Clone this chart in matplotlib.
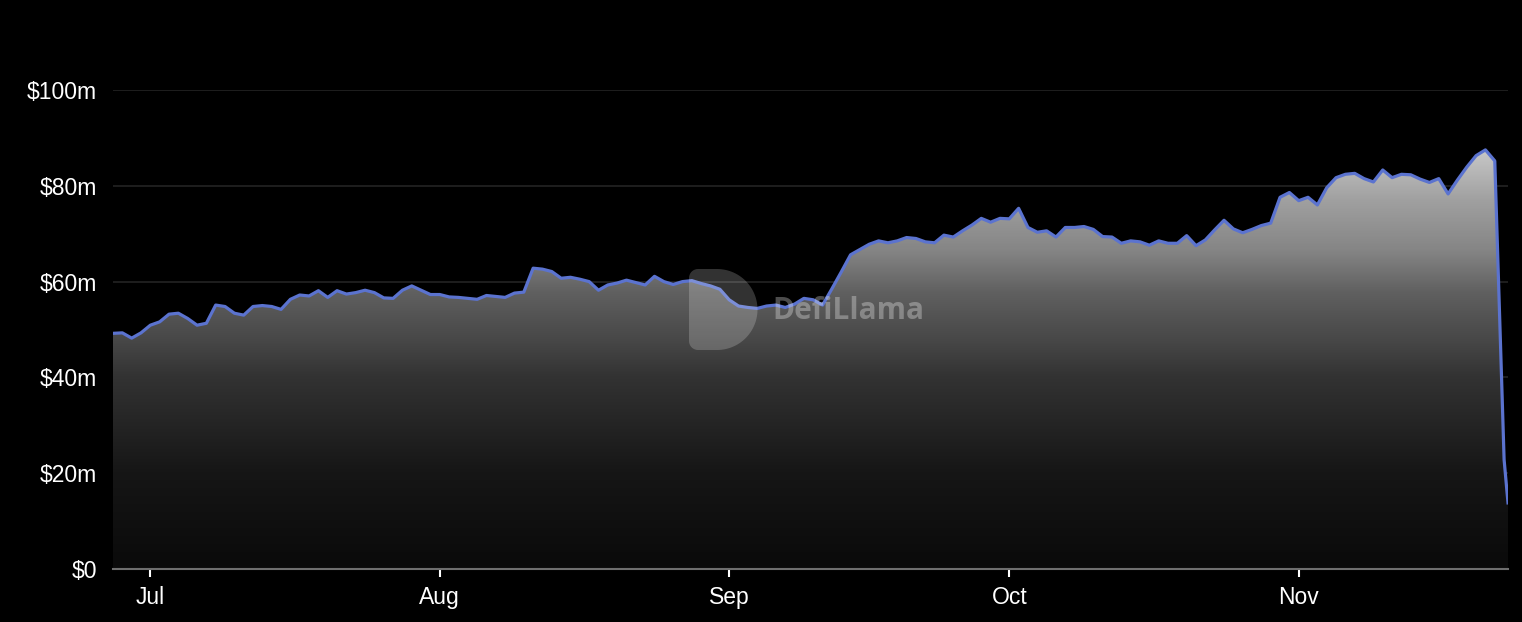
import matplotlib
matplotlib.use("Agg")
import matplotlib.pyplot as plt
import matplotlib.dates as mdates
import numpy as np
import pandas as pd
from matplotlib.colors import LinearSegmentedColormap
from matplotlib.patches import Polygon
from matplotlib.ticker import FuncFormatter

# TVL en millions de dollars, un point par jour depuis le 27 juin
START_DAY = "2022-06-27"
LAST_STAMP = "2022-11-23 10:00"  # dernier point intrajournalier
tvl_m = [
    49.2, 49.3, 48.2, 49.3, 50.9, 51.6, 53.2, 53.4, 52.3, 50.9,
    51.3, 55.1, 54.8, 53.4, 53.0, 54.8, 55.0, 54.8, 54.2, 56.3,
    57.2, 57.0, 58.1, 56.7, 58.1, 57.4, 57.7, 58.2, 57.7, 56.6,
    56.5, 58.2, 59.1, 58.2, 57.3, 57.3, 56.8, 56.7, 56.5, 56.3,
    57.1, 56.9, 56.7, 57.6, 57.8, 62.8, 62.6, 62.1, 60.7, 60.9,
    60.5, 60.0, 58.2, 59.3, 59.7, 60.3, 59.8, 59.3, 61.1, 60.0,
    59.4, 60.0, 60.2, 59.6, 59.1, 58.4, 56.2, 54.9, 54.6, 54.4,
    54.9, 55.1, 54.6, 55.3, 56.5, 56.2, 55.1, 58.5, 62.0, 65.6,
    66.7, 67.8, 68.5, 68.1, 68.5, 69.2, 69.0, 68.3, 68.1, 69.7,
    69.3, 70.6, 71.8, 73.2, 72.4, 73.2, 73.1, 75.3, 71.3, 70.3,
    70.6, 69.3, 71.3, 71.3, 71.5, 70.9, 69.4, 69.3, 68.0, 68.5,
    68.3, 67.6, 68.5, 68.0, 68.0, 69.6, 67.5, 68.7, 70.8, 72.8,
    71.0, 70.2, 70.9, 71.7, 72.2, 77.6, 78.6, 76.9, 77.6, 76.0,
    79.6, 81.7, 82.4, 82.6, 81.5, 80.8, 83.3, 81.7, 82.4, 82.3,
    81.4, 80.7, 81.5, 78.3, 81.2, 83.9, 86.3, 87.5, 85.2, 22.8,
    13.8,
]
y_ticks = [0, 20, 40, 60, 80, 100]

days = list(pd.date_range(START_DAY, periods=len(tvl_m) - 1, freq="D"))
days.append(pd.Timestamp(LAST_STAMP))
x = mdates.date2num(days)
y = np.array(tvl_m)

W, H = 1522, 622
fig = plt.figure(figsize=(W / 100, H / 100), dpi=100, facecolor="black")
ax = fig.add_axes([113 / W, (H - 569) / H, (1508 - 113) / W, (569 - 90) / H])
ax.set_facecolor("black")

# remplissage en dégradé (clair en haut, noir en bas)
grey = LinearSegmentedColormap.from_list(
    "fade",
    [(0.0, "#0a0a0a"), (0.23, "#161616"), (0.46, "#333333"),
     (0.53, "#444444"), (0.66, "#606060"), (0.76, "#858585"),
     (0.88, "#a0a0a0"), (1.0, "#c8c8c8")],
)
ymax = y.max()
grad = np.linspace(0, 1, 256).reshape(-1, 1)
img = ax.imshow(grad, cmap=grey, origin="lower", aspect="auto",
                extent=[x[0], x[-1], 0, ymax], zorder=1)
poly = Polygon(np.column_stack([np.r_[x[0], x, x[-1]], np.r_[0, y, 0]]),
               closed=True, facecolor="none", edgecolor="none")
ax.add_patch(poly)
img.set_clip_path(poly)

ax.plot(x, y, color="#5b73cf", lw=2.3, zorder=3, solid_joinstyle="round")

ax.set_xlim(x[0], x[-1])
ax.set_ylim(0, 100)
ax.set_yticks(y_ticks)
ax.yaxis.set_major_formatter(FuncFormatter(lambda v, p: "$0" if v == 0 else f"${v:.0f}m"))
ax.xaxis.set_major_locator(mdates.MonthLocator())
ax.xaxis.set_major_formatter(mdates.DateFormatter("%b"))

for v in y_ticks[1:]:
    ax.axhline(v, color="#232323", lw=1.2, zorder=0.5)
for s in ["top", "right", "left"]:
    ax.spines[s].set_visible(False)
ax.spines["bottom"].set_color("#6e6e6e")
ax.spines["bottom"].set_linewidth(1.5)
ax.spines["bottom"].set_zorder(4)

ax.tick_params(axis="y", length=0, pad=11.5, labelcolor="white",
               labelsize=16.5, labelfontfamily="Liberation Sans")
ax.tick_params(axis="x", length=6, width=1.5, color="white", pad=6,
               labelcolor="white", labelsize=16.5,
               labelfontfamily="Liberation Sans")


# filigrane DefiLlama (coordonnées en pixels, y vers le bas)
def to_fig(px, py):
    return np.column_stack([np.asarray(px) / W, (H - np.asarray(py)) / H])


left, top, bottom, rc = 689, 269, 350, 9
cx, cy, r = 717, 309.5, 40.5
a_arc = np.linspace(-np.pi / 2, np.pi / 2, 60)
a_bl = np.linspace(np.pi / 2, np.pi, 10)
a_tl = np.linspace(np.pi, 1.5 * np.pi, 10)
xs = np.r_[cx + r * np.cos(a_arc),
           left + rc + rc * np.cos(a_bl),
           left + rc + rc * np.cos(a_tl)]
ys = np.r_[cy + r * np.sin(a_arc),
           bottom - rc + rc * np.sin(a_bl),
           top + rc + rc * np.sin(a_tl)]
logo = Polygon(to_fig(xs, ys), closed=True, transform=fig.transFigure,
               facecolor="white", alpha=0.2, edgecolor="none", zorder=5)
fig.patches.append(logo)
fig.text(772 / W, (H - 311) / H, "DefiLlama", color="white", alpha=0.3,
         fontsize=21.5, fontweight="bold", family="Open Sans",
         ha="left", va="center")

fig.savefig("out.png", dpi=100, facecolor="black")
